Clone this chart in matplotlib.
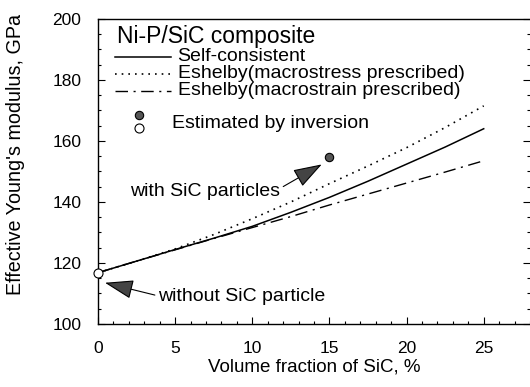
import matplotlib
matplotlib.use("Agg")
import matplotlib.pyplot as plt
from matplotlib.ticker import MultipleLocator

plt.rcParams['font.family'] = ['Liberation Sans', 'DejaVu Sans']

# values
vf = [0, 2.5, 5, 7.5, 10, 12.5, 15, 17.5, 20, 22.5, 25]
self_consistent = [116.8, 120.6, 124.4, 128.1, 132.0, 136.6, 141.5, 146.8, 152.4, 158.0, 164.0]
eshelby_stress = [116.8, 120.6, 124.6, 129.3, 134.5, 140.0, 146.0, 151.8, 157.8, 164.4, 171.5]
eshelby_strain = [116.8, 120.6, 124.3, 128.0, 131.6, 135.2, 139.0, 142.6, 146.2, 149.8, 153.5]
inv_with_x, inv_with_y = [15], [154.8]
inv_without_x, inv_without_y = [0], [116.8]

fig = plt.figure(figsize=(5.30, 3.87), dpi=100)
ax = fig.add_axes([0.185, 0.163, 0.815, 0.788])

ax.plot(vf, self_consistent, color='black', lw=1.1)
ax.plot(vf, eshelby_stress, color='black', lw=1.2, linestyle=(0, (1, 3)))
ax.plot(vf, eshelby_strain, color='black', lw=1.0, linestyle=(0, (9, 4, 1.5, 4)))
ax.plot(inv_with_x, inv_with_y, 'o', ms=6, mfc='#555555', mec='black', mew=0.8, clip_on=False)
ax.plot(inv_without_x, inv_without_y, 'o', ms=6.5, mfc='white', mec='black', mew=0.8, clip_on=False, zorder=5)

ax.set_xlim(0, 28)
ax.set_ylim(100, 200)
ax.xaxis.set_major_locator(MultipleLocator(5))
ax.xaxis.set_minor_locator(MultipleLocator(1))
ax.yaxis.set_major_locator(MultipleLocator(20))
ax.yaxis.set_minor_locator(MultipleLocator(5))
ax.tick_params(which='both', direction='in', left=True, right=True, top=False, bottom=True,
               labelsize=12.5, pad=12, width=0.8)
ax.tick_params(which='major', length=5)
ax.tick_params(which='minor', length=2.5)
ax.spines['right'].set_visible(False)
for s in ['left', 'bottom', 'top']:
    ax.spines[s].set_linewidth(1.0)

ax.set_xlabel('Volume fraction of SiC, %', fontsize=13.5, labelpad=2)
ax.set_ylabel("Effective Young's modulus, GPa", fontsize=14.2)
ax.yaxis.set_label_coords(-0.169, 0.554)

# legend drawn by hand in axes coordinates
t = ax.transAxes
ax.text(0.043, 0.942, 'Ni-P/SiC composite', transform=t, fontsize=16.5, va='center')
ax.plot([0.039, 0.170], [0.876, 0.876], transform=t, color='black', lw=1.1)
ax.plot([0.039, 0.170], [0.820, 0.820], transform=t, color='black', lw=1.2, linestyle=(0, (1, 3)))
ax.plot([0.039, 0.170], [0.765, 0.765], transform=t, color='black', lw=1.0, linestyle=(0, (9, 4, 1.5, 4)))
ax.text(0.184, 0.876, 'Self-consistent', transform=t, fontsize=14, va='center')
ax.text(0.184, 0.820, 'Eshelby(macrostress prescribed)', transform=t, fontsize=14, va='center')
ax.text(0.184, 0.765, 'Eshelby(macrostrain prescribed)', transform=t, fontsize=14, va='center')
ax.plot([0.095], [0.685], 'o', transform=t, ms=6, mfc='#555555', mec='black', mew=0.8)
ax.plot([0.095], [0.644], 'o', transform=t, ms=6.5, mfc='white', mec='black', mew=0.8)
ax.text(0.172, 0.658, 'Estimated by inversion', transform=t, fontsize=14, va='center')

arrow = dict(arrowstyle='-|>,head_length=0.9,head_width=0.3', mutation_scale=20,
             color='black', fc='#444444', lw=0.8, shrinkA=0, shrinkB=0)
ax.annotate('with SiC particles', xy=(14.5, 152.3), xytext=(2.1, 143.4),
            fontsize=14, va='center', ha='left',
            arrowprops=dict(arrow, relpos=(1.0, 0.7)))
ax.annotate('without SiC particle', xy=(0.45, 113.5), xytext=(3.9, 108.9),
            fontsize=14, va='center', ha='left',
            arrowprops=dict(arrow, relpos=(-0.02, 0.6)))

fig.savefig('out.png', dpi=100)
